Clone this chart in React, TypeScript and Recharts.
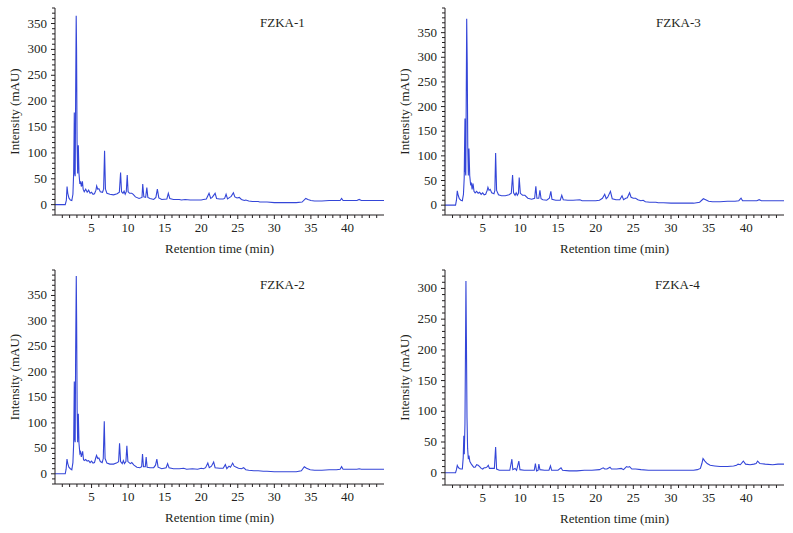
import { LineChart, Line, XAxis, YAxis, Label } from 'recharts';

// HPLC chromatograms of four FZKA samples, [retention time (min), intensity (mAU)].

const FZKA_1: [number, number][] = [
  [0, 0], [1.4, 0], [1.55, 8], [1.65, 35], [1.75, 22], [1.9, 13], [2.1, 9], [2.3, 8],
  [2.45, 20], [2.55, 60], [2.6, 120], [2.64, 178], [2.7, 60], [2.76, 55], [2.82, 200],
  [2.9, 365], [2.95, 300], [3.02, 120], [3.1, 60], [3.19, 115], [3.28, 60], [3.4, 40],
  [3.5, 45], [3.6, 35], [3.75, 45], [3.85, 30], [4.0, 25], [4.2, 30], [4.4, 24], [4.6, 28],
  [4.8, 22], [5.0, 24], [5.2, 20], [5.4, 21], [5.6, 28], [5.7, 36], [5.85, 30], [6.0, 31],
  [6.2, 25], [6.5, 24], [6.65, 30], [6.78, 104], [6.9, 30], [7.1, 22], [7.5, 20], [8.0, 19],
  [8.5, 21], [8.8, 24], [8.97, 62], [9.1, 25], [9.3, 22], [9.45, 26], [9.6, 20], [9.75, 25],
  [9.88, 57], [10.0, 25], [10.2, 22], [10.5, 22], [10.7, 20], [11.0, 15], [11.5, 12],
  [11.9, 14], [12.0, 40], [12.15, 15], [12.4, 14], [12.56, 33], [12.7, 14], [13.0, 12],
  [13.5, 10], [13.8, 14], [14.0, 30], [14.2, 13], [14.6, 10], [15.3, 11], [15.5, 22],
  [15.7, 12], [16.2, 10], [17.0, 10], [17.3, 9], [17.8, 10], [18.5, 9], [19.5, 9], [20.0, 9],
  [20.3, 10], [20.7, 11], [21.07, 22], [21.3, 12], [21.5, 14], [21.7, 18], [21.9, 22],
  [22.1, 12], [22.5, 11], [23.0, 11], [23.2, 12], [23.4, 20], [23.6, 11], [23.9, 14],
  [24.1, 16], [24.4, 23], [24.6, 15], [24.9, 13], [25.2, 14], [25.5, 10], [25.9, 8],
  [26.1, 9], [26.5, 7], [27.0, 6], [27.8, 6], [28.0, 5], [29, 5], [30, 4], [31, 4], [32, 4],
  [33, 4], [33.8, 5], [34.3, 12], [34.6, 10], [35.0, 8], [35.5, 7], [36.5, 7], [37.5, 8],
  [38.5, 8], [39.0, 8], [39.2, 12], [39.4, 8], [40.5, 8], [41.3, 8], [41.6, 10], [41.9, 8],
  [43, 8], [44, 8], [45, 8],
];

const FZKA_3: [number, number][] = [
  [0, 0], [1.4, 0], [1.52, 10], [1.63, 29], [1.75, 20], [1.9, 13], [2.1, 10], [2.3, 9],
  [2.45, 22], [2.55, 55], [2.6, 120], [2.65, 176], [2.7, 70], [2.76, 60], [2.82, 220],
  [2.88, 378], [2.95, 290], [3.02, 120], [3.1, 60], [3.18, 115], [3.28, 60], [3.4, 42],
  [3.5, 44], [3.6, 32], [3.72, 44], [3.85, 28], [4.0, 25], [4.2, 28], [4.4, 24], [4.6, 26],
  [4.8, 22], [5.0, 25], [5.2, 21], [5.4, 22], [5.6, 30], [5.7, 36], [5.85, 30], [6.0, 32],
  [6.2, 25], [6.5, 23], [6.62, 30], [6.72, 106], [6.85, 30], [7.1, 21], [7.5, 19], [8.0, 19],
  [8.5, 21], [8.8, 24], [8.97, 61], [9.1, 25], [9.3, 20], [9.45, 25], [9.6, 20], [9.75, 24],
  [9.85, 56], [10.0, 24], [10.3, 20], [10.6, 20], [11.0, 14], [11.5, 12], [11.9, 14],
  [12.06, 38], [12.2, 14], [12.45, 14], [12.6, 30], [12.75, 13], [13.0, 11], [13.5, 10],
  [13.85, 14], [14.05, 28], [14.2, 12], [14.7, 10], [15.3, 10], [15.5, 20], [15.7, 11],
  [16.3, 10], [17.0, 10], [17.9, 11], [18.2, 9], [19, 9], [20, 9], [20.5, 10], [20.9, 14],
  [21.2, 22], [21.4, 13], [21.6, 16], [21.96, 28], [22.2, 13], [22.7, 11], [23.2, 11],
  [23.5, 19], [23.7, 11], [24.0, 14], [24.2, 15], [24.5, 25], [24.7, 16], [25.0, 14],
  [25.3, 14], [25.6, 11], [26.0, 9], [26.3, 10], [26.6, 7], [27.2, 6], [28.0, 6], [28.3, 5],
  [29, 5], [30, 4], [31, 4], [32, 4], [33, 4], [33.8, 6], [34.3, 13], [34.6, 11], [35.0, 8],
  [35.5, 7], [36.5, 7], [37.5, 8], [38.5, 8], [39.0, 9], [39.3, 14], [39.5, 9], [40.5, 9],
  [41.4, 9], [41.7, 11], [42.0, 9], [43, 9], [44, 9], [45, 9],
];

const FZKA_2: [number, number][] = [
  [0, 0], [1.4, 0], [1.52, 9], [1.64, 29], [1.75, 20], [1.9, 13], [2.1, 10], [2.3, 8],
  [2.45, 22], [2.55, 58], [2.6, 125], [2.64, 181], [2.7, 68], [2.76, 62], [2.82, 230],
  [2.91, 388], [2.96, 300], [3.03, 125], [3.1, 62], [3.19, 118], [3.28, 60], [3.4, 40],
  [3.5, 43], [3.6, 33], [3.78, 44], [3.9, 28], [4.0, 26], [4.2, 28], [4.4, 25], [4.6, 26],
  [4.8, 22], [5.0, 25], [5.2, 21], [5.4, 22], [5.55, 30], [5.68, 36], [5.85, 30], [6.0, 31],
  [6.2, 24], [6.45, 22], [6.6, 30], [6.74, 103], [6.85, 30], [7.1, 21], [7.5, 19], [8.0, 19],
  [8.4, 21], [8.7, 24], [8.83, 60], [8.97, 24], [9.2, 20], [9.35, 26], [9.5, 20], [9.7, 24],
  [9.83, 55], [9.97, 24], [10.3, 20], [10.5, 22], [10.8, 17], [11.2, 13], [11.6, 12],
  [11.85, 14], [11.97, 39], [12.1, 14], [12.35, 14], [12.47, 33], [12.6, 13], [13.0, 12],
  [13.5, 12], [13.75, 17], [13.93, 29], [14.1, 13], [14.6, 10], [15.2, 12], [15.4, 20],
  [15.6, 12], [16.2, 10], [17.0, 10], [17.6, 11], [18.0, 9], [18.8, 10], [19.5, 9],
  [20.0, 11], [20.3, 10], [20.6, 12], [20.9, 21], [21.1, 12], [21.4, 15], [21.7, 23],
  [21.9, 12], [22.5, 11], [23.0, 11], [23.3, 18], [23.5, 10], [23.8, 15], [24.0, 13],
  [24.3, 21], [24.5, 15], [24.8, 13], [25.1, 11], [25.5, 10], [25.8, 12], [26.1, 8],
  [26.5, 7], [27.2, 6], [27.8, 6], [28.5, 5], [29, 5], [30, 4], [31, 4], [32, 4], [33, 4],
  [33.7, 6], [34.1, 14], [34.4, 11], [34.9, 8], [35.5, 7], [36.5, 7], [37.5, 8], [38.5, 8],
  [39.0, 9], [39.2, 14], [39.4, 9], [40.5, 9], [41.3, 9], [41.6, 10], [41.9, 9], [43, 9],
  [44, 9], [45, 9],
];

const FZKA_4: [number, number][] = [
  [0, 0], [1.4, 0], [1.52, 5], [1.63, 12], [1.75, 9], [1.9, 7], [2.1, 6], [2.3, 6],
  [2.42, 25], [2.5, 60], [2.56, 30], [2.65, 80], [2.72, 200], [2.78, 312], [2.84, 220],
  [2.92, 90], [3.0, 40], [3.1, 22], [3.18, 28], [3.3, 18], [3.5, 14], [3.8, 9], [4.0, 9],
  [4.2, 13], [4.4, 12], [4.6, 10], [4.8, 7], [5.0, 6], [5.2, 8], [5.4, 8], [5.55, 9],
  [5.75, 12], [5.9, 7], [6.2, 7], [6.55, 7], [6.72, 42], [6.85, 6], [7.2, 4], [7.8, 4],
  [8.6, 4], [8.88, 22], [9.0, 5], [9.3, 7], [9.5, 4], [9.8, 19], [9.95, 5], [10.5, 4],
  [11.5, 4], [11.85, 4], [12.0, 15], [12.15, 3], [12.35, 4], [12.46, 14], [12.6, 5],
  [13.2, 4], [13.8, 4], [14.0, 11], [14.15, 4], [15.0, 4], [15.4, 8], [15.6, 4], [16.5, 3],
  [17.5, 3], [18.5, 4], [19.5, 4], [20.5, 5], [21.0, 8], [21.2, 6], [21.5, 6], [21.9, 9],
  [22.1, 6], [22.8, 6], [23.4, 7], [23.7, 5], [24.1, 10], [24.3, 9], [24.5, 10], [24.8, 6],
  [25.3, 6], [26.0, 5], [27, 4], [28, 4], [29, 4], [30, 4], [31, 4], [32, 4], [33, 4],
  [33.5, 5], [33.9, 7], [34.1, 15], [34.25, 23], [34.5, 19], [34.8, 15], [35.2, 12],
  [35.8, 11], [36.5, 10], [37.5, 10], [38.3, 11], [38.7, 12], [38.9, 14], [39.2, 13],
  [39.6, 19], [39.9, 14], [40.5, 13], [41.0, 14], [41.3, 15], [41.5, 19], [41.8, 15],
  [42.5, 14], [43.5, 13], [44.2, 14], [45, 14],
];

const X_MAJOR = [5, 10, 15, 20, 25, 30, 35, 40];
const Y_MAJOR_A = [0, 50, 100, 150, 200, 250, 300, 350];
const Y_MAJOR_B = [0, 50, 100, 150, 200, 250, 300];

const BLUE = '#3446d8';
const FONT = 'Liberation Serif, Times New Roman, serif';
const TEXT = '#231f20';

const stepTicks = (from: number, to: number, step: number) => {
  const out: number[] = [];
  for (let v = from; v <= to; v += step) out.push(v);
  return out;
};

const textStyle = { fontFamily: FONT, fontSize: 13, fill: TEXT };

const XTick = (props: any) => {
  const { x, y, payload } = props;
  const major = X_MAJOR.includes(payload.value);
  return (
    <g>
      <line x1={x} x2={x} y1={y} y2={y + (major ? 4 : 3)} stroke={TEXT} strokeWidth={1} />
      {major && (
        <text x={x} y={y + 17} textAnchor="middle" style={textStyle}>
          {payload.value}
        </text>
      )}
    </g>
  );
};

const makeYTick = (majors: number[]) => (props: any) => {
  const { x, y, payload } = props;
  const major = majors.includes(payload.value);
  return (
    <g>
      <line x1={x - (major ? 4 : 3)} x2={x} y1={y} y2={y} stroke={TEXT} strokeWidth={1} />
      {major && (
        <text x={x - 8} y={y + 4} textAnchor="end" style={textStyle}>
          {payload.value}
        </text>
      )}
    </g>
  );
};

interface PanelProps {
  name: string;
  points: [number, number][];
  left: number;
  top: number;
  width: number;
  height: number;
  yMax: number;
  yMajors: number[];
  bottom: number;
  titleX: number;
}

function Panel({ name, points, left, top, width, height, yMax, yMajors, bottom, titleX }: PanelProps) {
  const data = points.map(([t, v]) => ({ t, v }));
  const YTick = makeYTick(yMajors);
  return (
    <div style={{ position: 'absolute', left, top, width, height }}>
      <LineChart width={width} height={height} data={data} margin={{ top: 8, right: 0, bottom: 0, left: 0 }}>
        <XAxis
          type="number"
          dataKey="t"
          domain={[0, 45]}
          ticks={stepTicks(1, 44, 1)}
          interval={0}
          tickSize={0}
          tickMargin={0}
          tickLine={false}
          tick={XTick}
          axisLine={{ stroke: TEXT }}
          height={bottom}
        >
          <Label
            content={({ viewBox }: any) => (
              <text
                x={viewBox.x + viewBox.width / 2}
                y={viewBox.y + 38}
                textAnchor="middle"
                style={textStyle}
              >
                Retention time (min)
              </text>
            )}
          />
        </XAxis>
        <YAxis
          type="number"
          domain={[-20, yMax]}
          ticks={stepTicks(-20, yMax, 10)}
          interval={0}
          tickSize={0}
          tickMargin={0}
          tickLine={false}
          tick={YTick}
          axisLine={{ stroke: TEXT }}
          width={55}
          allowDataOverflow
        >
          <Label
            content={({ viewBox }: any) => {
              const cx = viewBox.x + 15;
              const cy = viewBox.y + viewBox.height / 2;
              return (
                <text
                  x={cx}
                  y={cy + 4}
                  transform={`rotate(-90, ${cx}, ${cy})`}
                  textAnchor="middle"
                  style={textStyle}
                >
                  Intensity (mAU)
                </text>
              );
            }}
          />
        </YAxis>
        <Line
          type="linear"
          dataKey="v"
          stroke={BLUE}
          strokeWidth={1.1}
          dot={false}
          activeDot={false}
          isAnimationActive={false}
        />
      </LineChart>
      <div
        style={{
          position: 'absolute',
          left: titleX - 22,
          top: 15,
          fontFamily: FONT,
          fontSize: 13,
          color: TEXT,
          whiteSpace: 'nowrap',
        }}
      >
        {name}
      </div>
    </div>
  );
}

export default function App() {
  return (
    <div style={{ position: 'absolute', left: 0, top: 0, width: 793, height: 533, background: '#fff' }}>
      <Panel name="FZKA-1" points={FZKA_1} left={0} top={0} width={384} height={265} yMax={380} yMajors={Y_MAJOR_A} bottom={50} titleX={282} />
      <Panel name="FZKA-3" points={FZKA_3} left={390} top={0} width={394} height={265} yMax={400} yMajors={Y_MAJOR_A} bottom={50} titleX={288} />
      <Panel name="FZKA-2" points={FZKA_2} left={0} top={262} width={384} height={271} yMax={400} yMajors={Y_MAJOR_A} bottom={49} titleX={282} />
      <Panel name="FZKA-4" points={FZKA_4} left={390} top={262} width={394} height={271} yMax={330} yMajors={Y_MAJOR_B} bottom={48} titleX={287} />
    </div>
  );
}
